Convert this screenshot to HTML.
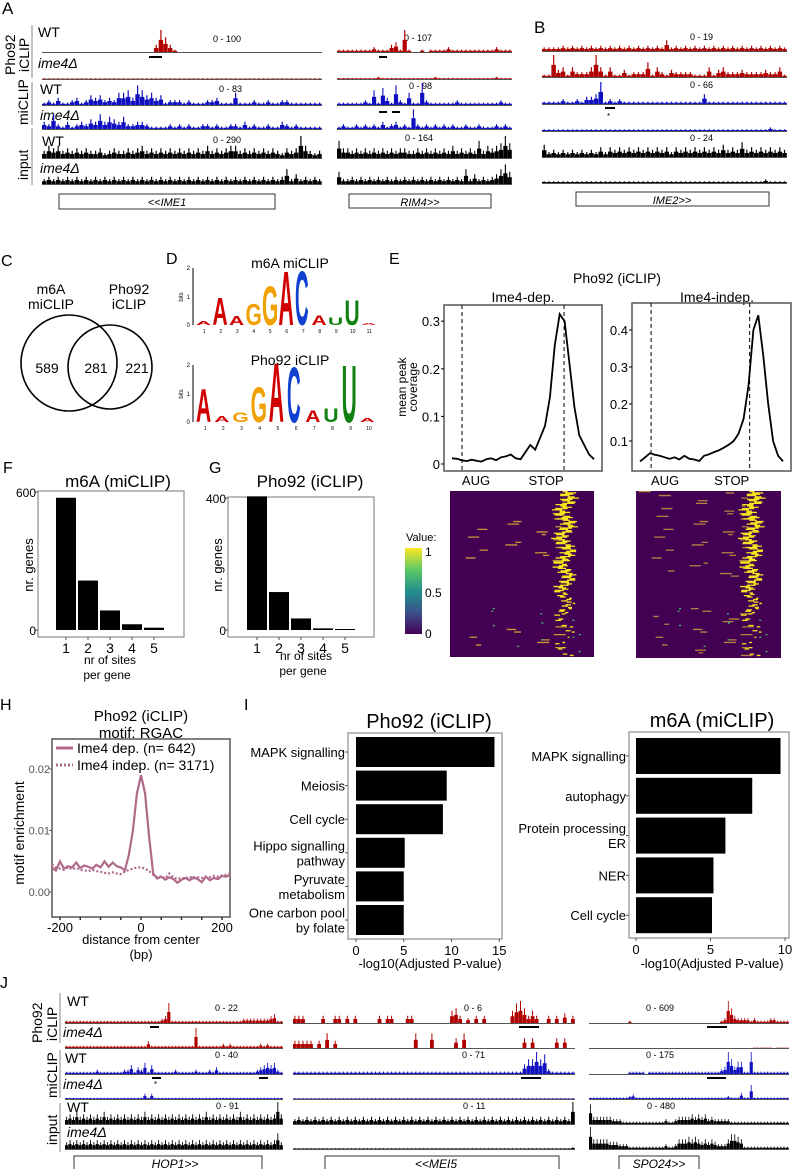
<!DOCTYPE html>
<html><head><meta charset="utf-8">
<style>
html,body{margin:0;padding:0;background:#fff;}
svg{display:block;font-family:"Liberation Sans",Arial,sans-serif;}
</style></head>
<body>
<svg id="fig" width="792" height="1169" viewBox="0 0 792 1169">
<g id="staticg" font-size="12">
<text x="2" y="14" font-size="17">A</text>
<text x="534" y="33" font-size="17">B</text>
<text x="1" y="266" font-size="16">C</text>
<text x="166" y="264" font-size="16">D</text>
<text x="389" y="264" font-size="16">E</text>
<text x="3" y="473" font-size="16">F</text>
<text x="209" y="473" font-size="16">G</text>
<text x="0" y="710" font-size="16">H</text>
<text x="244" y="710" font-size="16">I</text>
<text x="0" y="988" font-size="16">J</text>

<text transform="translate(15,75) rotate(-90)" font-size="14">Pho92</text>
<text transform="translate(29,72) rotate(-90)" font-size="14">iCLIP</text>
<line x1="32" y1="25" x2="32" y2="78" stroke="#888"/>
<text transform="translate(28,125) rotate(-90)" font-size="14">miCLIP</text>
<line x1="32" y1="82" x2="32" y2="125" stroke="#888"/>
<text transform="translate(28,180) rotate(-90)" font-size="14">input</text>
<line x1="32" y1="128" x2="32" y2="185" stroke="#888"/>
<text x="38" y="37" font-size="14">WT</text>
<text x="38" y="68" font-size="14" font-style="italic">ime4Δ</text>
<text x="40" y="94" font-size="14">WT</text>
<text x="40" y="120" font-size="14" font-style="italic">ime4Δ</text>
<text x="42" y="146" font-size="14">WT</text>
<text x="40" y="173" font-size="14" font-style="italic">ime4Δ</text>
<g font-size="9">
<text x="213" y="42">0 - 100</text><text x="219" y="92">0 - 83</text><text x="213" y="143">0 - 290</text>
<text x="404" y="41">0 - 107</text><text x="409" y="89">0 - 98</text><text x="405" y="141">0 - 164</text>
<text x="690" y="40">0 - 19</text><text x="690" y="88">0 - 66</text><text x="690" y="141">0 - 24</text>
</g>
<rect x="149" y="56" width="13" height="2" fill="#000"/>
<rect x="379" y="56" width="8" height="2" fill="#000"/>
<rect x="379" y="111" width="8" height="2" fill="#000"/><rect x="392" y="111" width="8" height="2" fill="#000"/>
<rect x="605" y="107" width="10" height="2" fill="#000"/><text x="607" y="119" font-size="8">*</text>
<rect x="59" y="194" width="216" height="15" fill="none" stroke="#333"/>
<text x="167" y="206" font-size="11" font-style="italic" text-anchor="middle">&lt;&lt;IME1</text>
<rect x="349" y="194" width="142" height="14" fill="none" stroke="#333"/>
<text x="420" y="206" font-size="11" font-style="italic" text-anchor="middle">RIM4&gt;&gt;</text>
<rect x="576" y="192" width="193" height="14" fill="none" stroke="#333"/>
<text x="672" y="204" font-size="11" font-style="italic" text-anchor="middle">IME2&gt;&gt;</text>

<text x="51" y="294" font-size="14" text-anchor="middle">m6A</text>
<text x="51" y="309" font-size="14" text-anchor="middle">miCLIP</text>
<text x="129" y="294" font-size="14" text-anchor="middle">Pho92</text>
<text x="129" y="309" font-size="14" text-anchor="middle">iCLIP</text>
<circle cx="69" cy="363" r="48" fill="none" stroke="#000" stroke-width="1.6"/>
<circle cx="110" cy="367" r="42" fill="none" stroke="#000" stroke-width="1.6"/>
<text x="47" y="373" font-size="14" text-anchor="middle">589</text>
<text x="96" y="373" font-size="14" text-anchor="middle">281</text>
<text x="137" y="373" font-size="14" text-anchor="middle">221</text>

<text x="290" y="268" font-size="14" text-anchor="middle">m6A miCLIP</text>
<text x="290" y="365" font-size="14" text-anchor="middle">Pho92 iCLIP</text>

<text x="617" y="283" font-size="14" text-anchor="middle">Pho92 (iCLIP)</text>
<text x="523" y="302" font-size="14" text-anchor="middle">Ime4-dep.</text>
<text x="717" y="302" font-size="14" text-anchor="middle">Ime4-indep.</text>
<text transform="translate(406,387) rotate(-90)" font-size="12" text-anchor="middle">mean peak</text>
<text transform="translate(417,387) rotate(-90)" font-size="12" text-anchor="middle">coverage</text>
<text x="406" y="541" font-size="11">Value:</text>

<text x="118" y="487" font-size="17" text-anchor="middle">m6A (miCLIP)</text>
<text x="310" y="487" font-size="17" text-anchor="middle">Pho92 (iCLIP)</text>
<text transform="translate(33,565) rotate(-90)" font-size="13" text-anchor="middle">nr. genes</text>
<text transform="translate(222,565) rotate(-90)" font-size="13" text-anchor="middle">nr. genes</text>
<text x="110" y="664" font-size="12" text-anchor="middle">nr of sites</text>
<text x="107" y="679" font-size="12" text-anchor="middle">per gene</text>
<text x="306" y="660" font-size="12" text-anchor="middle">nr of sites</text>
<text x="303" y="675" font-size="12" text-anchor="middle">per gene</text>

<text x="141" y="721" font-size="15" text-anchor="middle">Pho92 (iCLIP)</text>
<text x="141" y="738" font-size="15" text-anchor="middle">motif: RGAC</text>
<text transform="translate(24,833) rotate(-90)" font-size="14" text-anchor="middle">motif enrichment</text>
<text x="141" y="944" font-size="13" text-anchor="middle">distance from center</text>
<text x="141" y="959" font-size="13" text-anchor="middle">(bp)</text>

<text x="429" y="728" font-size="20" text-anchor="middle">Pho92 (iCLIP)</text>
<text x="712" y="727" font-size="20" text-anchor="middle">m6A (miCLIP)</text>
<text x="430" y="968" font-size="13" text-anchor="middle">-log10(Adjusted P-value)</text>
<text x="712" y="968" font-size="13" text-anchor="middle">-log10(Adjusted P-value)</text>

<text transform="translate(42,1043) rotate(-90)" font-size="14">Pho92</text>
<text transform="translate(57,1041) rotate(-90)" font-size="14">iCLIP</text>
<line x1="60" y1="993" x2="60" y2="1043" stroke="#888"/>
<text transform="translate(57,1098) rotate(-90)" font-size="14">miCLIP</text>
<line x1="60" y1="1050" x2="60" y2="1098" stroke="#888"/>
<text transform="translate(57,1145) rotate(-90)" font-size="14">input</text>
<line x1="60" y1="1103" x2="60" y2="1152" stroke="#888"/>
<text x="67" y="1006" font-size="14">WT</text>
<text x="63" y="1037" font-size="14" font-style="italic">ime4Δ</text>
<text x="65" y="1063" font-size="14">WT</text>
<text x="63" y="1089" font-size="14" font-style="italic">ime4Δ</text>
<text x="67" y="1112" font-size="14">WT</text>
<text x="67" y="1137" font-size="14" font-style="italic">ime4Δ</text>
<g font-size="9">
<text x="215" y="1011">0 - 22</text><text x="215" y="1058">0 - 40</text><text x="216" y="1109">0 - 91</text>
<text x="464" y="1011">0 - 6</text><text x="462" y="1058">0 - 71</text><text x="463" y="1109">0 - 11</text>
<text x="646" y="1011">0 - 609</text><text x="646" y="1058">0 - 175</text><text x="647" y="1109">0 - 480</text>
</g>
<rect x="150" y="1026" width="9" height="2"/><rect x="152" y="1077" width="9" height="2"/><text x="154" y="1087" font-size="8">*</text>
<rect x="259" y="1077" width="9" height="2"/>
<rect x="519" y="1026" width="20" height="2"/><rect x="521" y="1077" width="20" height="2"/>
<rect x="707" y="1026" width="20" height="2"/><rect x="707" y="1077" width="19" height="2"/>
<rect x="74" y="1156" width="188" height="15" fill="none" stroke="#333"/>
<text x="175" y="1168" font-size="12" font-style="italic" text-anchor="middle">HOP1&gt;&gt;</text>
<rect x="325" y="1156" width="234" height="15" fill="none" stroke="#333"/>
<text x="436" y="1168" font-size="12" font-style="italic" text-anchor="middle">&lt;&lt;MEI5</text>
<rect x="619" y="1156" width="80" height="15" fill="none" stroke="#333"/>
<text x="659" y="1168" font-size="12" font-style="italic" text-anchor="middle">SPO24&gt;&gt;</text>
</g>
<g id="dyn"></g>
</svg>
<script>
const trackSpecs = [
 [42,322,52,22,'#b00000',"000000000000000000000000396310000000000000000000000000000000"],
 [42,322,79,6,'#b00000',"111111111111111111111111111111111111111111111111111111111111"],
 [42,322,105,22,'#1010c0',"121311231243423255638645341222121112231115111211211221111111"],
 [42,322,129,22,'#1010c0',"326213123243635435223321111212121122121122131211211321211111"],
 [42,322,158,22,'#000',"354534343433423433434534343434343435343455343434343243495323"],
 [42,322,184,22,'#000',"232323232323232323232323232323232323232323232323232362423232"],
 [337,512,52,22,'#b00000',"1111111121113419100101111211111111112111"],
 [337,512,79,10,'#b00000',"1111111112111111111111211111111111112111"],
 [337,512,105,22,'#1010c0',"1111112161731821511921111112111111111211"],
 [337,512,129,22,'#1010c0',"1211212121312312182121212121121121112121"],
 [337,512,158,22,'#000',"7443434343434344334343434353434373545696"],
 [337,512,184,22,'#000',"5223232323232323232323232323262423234685"],
 [542,787,51,16,'#b00000',"2222323232323232323232323262323232323232323232323232"],
 [542,787,77,22,'#b00000',"1193414222494141131222614213222211141342223222232241"],
 [542,787,104,22,'#1010c0',"1111211213349121211111111111111111411111111111111111"],
 [542,787,131,16,'#1010c0',"1111111111111111111111111111111111111111111111112111"],
 [542,787,157,22,'#000',"5232323232324243434343434342434343434353436343434343"],
 [542,787,183,16,'#000',"1111111111111111111111111111111111111111111111121111"],
 [65,283,1023,20,'#b00000',"1111111111111111111111111111239111111111111111111111222222223411"],
 [65,283,1048,20,'#b00000',"1111111111111111111111113111111111111191111111212111111112121111"],
 [65,283,1074,20,'#1010c0',"1111111112111111122413251411111121111121112131111111111123454521"],
 [65,283,1099,12,'#1010c0',"1111111111111111111111141411111111111111111111111111111111111111"],
 [65,283,1124,22,'#000',"3435343434353434343434353434343434343434353434343435343434343494"],
 [65,283,1149,20,'#000',"3434343434343434343434343434343434343434343434343434343434343473"],
 [293,575,1023,22,'#b00000',"3330000300330303000003033000330000000005630203030000005896353003030403"],
 [293,575,1048,22,'#b00000',"3333303060300000000000000000006000600000406000000000000004040000040400"],
 [293,575,1074,22,'#1010c0',"1111111111111111111111111111111111111111111111111111111114669682111111"],
 [293,575,1099,8,'#1010c0',"1111111111111111111111111111111111111111111111111111111111111111111111"],
 [293,575,1124,22,'#000',"2323232323232323232323232323232323232323232323232323232323232323232329"],
 [293,575,1149,8,'#000',"1111111111111111111111111111111111111111111111111111111111111111111112"],
 [589,789,1023,22,'#b00000',"0000000000001000000000000000000000000000129632222121111221111"],
 [589,789,1048,4,'#b00000',"0000000000000000000000000000000000000000000000000011111101111"],
 [589,789,1074,22,'#1010c0',"0000000000001111101111111111111111111111239635511911111111111"],
 [589,789,1099,14,'#1010c0',"1111111111112311111111111111111111111111112111411911111111111"],
 [589,789,1124,22,'#000',"8333333222111111111111121123333434342322222111111111111111111"],
 [589,789,1149,22,'#000',"9444443332221111111111121124445454343432224665411111111111111"]
];
const fCats = [1,2,3,4,5];
const fValues = [575,215,85,25,10];
const fTicks = [0,600];
const gValues = [405,115,35,5,3];
const gTicks = [0,400];
const iLeftTerms = ["MAPK signalling","Meiosis","Cell cycle","Hippo signalling|pathway","Pyruvate|metabolism","One carbon pool|by folate"];
const iLeftValues = [14.5,9.5,9.1,5.1,5.0,5.0];
const iRightTerms = ["MAPK signalling","autophagy","Protein processing|ER","NER","Cell cycle"];
const iRightValues = [9.7,7.8,6.0,5.2,5.1];
const hX = [-220,-210,-200,-190,-180,-170,-160,-150,-140,-130,-120,-110,-100,-90,-80,-70,-60,-50,-40,-30,-20,-10,0,10,20,30,40,50,60,70,80,90,100,110,120,130,140,150,160,170,180,190,200,210,220];
const hDep = [0.0040,0.0035,0.0050,0.0038,0.0042,0.0040,0.0048,0.0039,0.0043,0.0041,0.0038,0.0044,0.0040,0.0050,0.0041,0.0048,0.0042,0.0040,0.0035,0.0060,0.0100,0.0160,0.0190,0.0160,0.0090,0.0030,0.0022,0.0025,0.0020,0.0024,0.0021,0.0015,0.0020,0.0023,0.0019,0.0024,0.0021,0.0016,0.0025,0.0019,0.0023,0.0021,0.0026,0.0025,0.0028];
const hIndep = [0.0045,0.0040,0.0038,0.0036,0.0040,0.0037,0.0039,0.0036,0.0035,0.0034,0.0036,0.0034,0.0033,0.0031,0.0030,0.0032,0.0030,0.0029,0.0033,0.0036,0.0038,0.0040,0.0040,0.0038,0.0034,0.0028,0.0024,0.0025,0.0022,0.0030,0.0024,0.0021,0.0023,0.0022,0.0025,0.0022,0.0024,0.0023,0.0025,0.0024,0.0026,0.0025,0.0027,0.0028,0.0030];
const hTicks = [0,0.01,0.02];
const hXTicks = [-200,0,200];
const hMinorTicks = [-200,-150,-100,-50,0,50,100,150,200];
const eDep = [0.012,0.011,0.008,0.006,0.009,0.007,0.005,0.010,0.012,0.008,0.014,0.016,0.020,0.012,0.010,0.025,0.040,0.030,0.055,0.080,0.140,0.250,0.315,0.300,0.210,0.120,0.060,0.040,0.020,0.010];
const eIndep = [0.045,0.055,0.067,0.063,0.060,0.056,0.052,0.056,0.050,0.060,0.052,0.050,0.046,0.060,0.064,0.070,0.075,0.082,0.090,0.100,0.120,0.160,0.250,0.400,0.440,0.330,0.200,0.100,0.060,0.045];
const eDepTicks = [0,0.1,0.2,0.3];
const eIndepTicks = [0.1,0.2,0.3,0.4];

const NS="http://www.w3.org/2000/svg";
const dyn=document.getElementById('dyn');
function mk(tag,attrs,parent){const e=document.createElementNS(NS,tag);for(const k in attrs)e.setAttribute(k,attrs[k]);(parent||dyn).appendChild(e);return e;}
function txt(x,y,s,size,anchor,parent){const t=mk('text',{x:x,y:y,'font-size':size,'text-anchor':anchor||'start'},parent);t.textContent=s;return t;}

trackSpecs.forEach((t)=>{
  const [x0,x1,base,h,col,data]=t;
  const g=mk('g',{});
  
  
  mk('line',{x1:x0,y1:base+0.5,x2:x1,y2:base+0.5,stroke:'#555','stroke-width':1},g);
  const n=data.length, w=(x1-x0)/n;
  let d='';
  for(let i=0;i<n;i++){
    const v=+data[i]; if(!v) continue;
    const bh=v/9*h;
    const xx=x0+i*w;
    d+=`M${(xx+w*0.35).toFixed(1)},${base}v${(-bh).toFixed(1)}h${(w*0.25).toFixed(1)}v${bh.toFixed(1)}z`;
    d+=`M${xx.toFixed(1)},${base}v${(-bh*0.55).toFixed(1)}h${(w*0.95).toFixed(1)}v${(bh*0.55).toFixed(1)}z`;
  }
  mk('path',{d:d,fill:col},g);
});

const logoCols={A:'#d00000',C:'#1040d0',G:'#f0a000',U:'#108010'};
function logo(x0,yb,step,letters){
  const g=mk('g',{});
  
  
  mk('line',{x1:x0,y1:yb-57,x2:x0,y2:yb,stroke:'#000'},g);
  txt(x0-3,yb-55,'2',6,'end',g);txt(x0-3,yb-26,'1',6,'end',g);txt(x0-3,yb+2,'0',6,'end',g);
  const bt=txt(x0-10,yb-28,'bits',6,'middle',g);bt.setAttribute('transform',`rotate(-90 ${x0-10} ${yb-28})`);
  letters.forEach((L,i)=>{
    const [ch,h]=L;
    const x=x0+3+i*step;
    if(h>0){
      const t=txt(0,0,ch,14,'start',g);
      t.setAttribute('fill',logoCols[ch]);
      t.setAttribute('font-weight','bold');
      t.setAttribute('transform',`translate(${x},${yb}) scale(${ch==='C'?1.35:1.5},${h/10})`);
    }
    txt(x+step/2,yb+8,String(i+1),5,'middle',g);
  });
}
logo(193,325,16.5,[['A',4],['A',28],['A',9],['G',22],['G',40],['A',55],['C',55],['A',10],['U',8],['U',25],['A',2]]);
logo(193,422,18.2,[['A',34],['A',6],['G',10],['G',36],['A',60],['C',56],['A',12],['U',14],['U',58],['A',4]]);

function profile(bx,by,bw,bh,vals,ticks,y0,ypu,aug,stop){
  const g=mk('g',{});
  
  
  mk('rect',{x:bx,y:by,width:bw,height:bh,fill:'none',stroke:'#555','stroke-width':1.5},g);
  const sy=v=>y0-v*ypu;
  ticks.forEach(t=>{ mk('line',{x1:bx-3,y1:sy(t),x2:bx,y2:sy(t),stroke:'#000'},g); txt(bx-4,sy(t)+5,String(t),13,'end',g);});
  const sx=i=>bx+8+i*(bw-16)/(vals.length-1);
  mk('path',{d:vals.map((v,i)=>(i?'L':'M')+sx(i).toFixed(1)+','+Math.min(sy(v),by+bh-2).toFixed(1)).join(''),fill:'none',stroke:'#000','stroke-width':1.8},g);
  [aug,stop].forEach(f=>mk('line',{x1:bx+f*bw,y1:by,x2:bx+f*bw,y2:by+bh,stroke:'#000','stroke-dasharray':'4,3'},g));
  txt(bx+aug*bw+14,by+bh+14,'AUG',13,'middle',g);
  txt(bx+stop*bw-18,by+bh+14,'STOP',13,'middle',g);
}
profile(444,305,158,166,eDep,eDepTicks,464,476,0.114,0.76);
profile(632,303,159,168,eIndep,eIndepTicks,478,370,0.12,0.74);

function heat(bx,by,bw,bh,dens,center,orange){
  const g=mk('g',{});
  
  
  mk('rect',{x:bx,y:by,width:bw,height:bh,fill:'#440154'},g);
  const rows=Math.round(bh/1.3);
  let d='',d2='',d3='';
  for(let r=0;r<rows;r++){
    const y=by+r*1.3;
    const f=r/rows;
    if(f<0.75 || Math.sin(r*7.7)>0.3){
      const c=bx+bw*(center+0.03*Math.sin(r*1.7)+0.03*Math.sin(r*0.31));
      const l=(f<0.6?5:2)+8*Math.abs(Math.sin(r*2.3))*(1-f*0.7);
      d+=`M${(c-l/2).toFixed(1)},${y.toFixed(1)}h${l.toFixed(1)}v1.3h${(-l).toFixed(1)}z`;
    }
    if(Math.sin(r*3.1)>1-dens*(1.2-f)){const x2=bx+bw*(0.02+0.72*Math.abs(Math.sin(r*5.3)));const l=4+8*Math.abs(Math.cos(r));d2+=`M${x2.toFixed(1)},${y.toFixed(1)}h${l.toFixed(1)}v1.3h${(-l).toFixed(1)}z`;}
    if(f>0.7 && Math.sin(r*9.1)>0.6){const x3=bx+bw*(0.1+0.8*Math.abs(Math.sin(r*2.9)));d3+=`M${x3.toFixed(1)},${y.toFixed(1)}h2v1.3h-2z`;}
  }
  mk('path',{d:d2,fill:orange,opacity:0.85},g);
  mk('path',{d:d3,fill:'#3fbc73'},g);
  mk('path',{d:d,fill:'#f1e51d'},g);
}
heat(450,491,144,166,0.25,0.8,'#e0b030');
heat(636,491,145,167,0.9,0.8,'#c89a3a');
const gradDefs=mk('defs',{});
const lg=mk('linearGradient',{id:'vir',x1:0,y1:1,x2:0,y2:0},gradDefs);
[['0','#440154'],['0.25','#3b528b'],['0.5','#21908c'],['0.75','#5dc963'],['1','#fde725']].forEach(s=>mk('stop',{offset:s[0],'stop-color':s[1]},lg));
const cb=mk('rect',{x:405,y:548,width:17,height:86,fill:'url(#vir)'});


txt(425,556,'1',12);txt(425,597,'0.5',12);txt(425,638,'0',12);

function bars(bx,by,bw,bh,x1,yTop,yBot,vals,ticks,name){
  const g=mk('g',{});
  
  
  mk('rect',{x:bx,y:by,width:bw,height:bh,fill:'none',stroke:'#777','stroke-width':1},g);
  const maxT=ticks[ticks.length-1];
  const sy=v=>yBot-v/maxT*(yBot-yTop);
  ticks.forEach(t=>{mk('line',{x1:bx-3,y1:sy(t),x2:bx,y2:sy(t),stroke:'#555'},g);txt(bx-2,sy(t)+5,String(t),12,'end',g);});
  vals.forEach((v,i)=>{
    const cx=x1+i*22;
    const b=mk('rect',{x:cx-10,y:sy(v),width:20,height:Math.max(1,yBot-sy(v)),fill:'#000'},g);
    
    
    mk('line',{x1:cx,y1:by+bh,x2:cx,y2:by+bh+3,stroke:'#555'},g);
    txt(cx,by+bh+16,String(fCats[i]),14,'middle',g);
  });
}
bars(38,491,146,146,66,492,630,fValues,fTicks,'bar-chart-m6a-sites');
bars(228,497,146,140,257,498,630,gValues,gTicks,'bar-chart-pho92-sites');

(function(){
  const g=mk('g',{});
  
  
  const bx=52,by=739,bw=178,bh=178;
  const sx=v=>141+v*0.405, sy=v=>892-v*6150;
  mk('rect',{x:bx,y:by,width:bw,height:bh,fill:'none',stroke:'#555','stroke-width':1.5},g);
  hTicks.forEach(t=>{mk('line',{x1:bx-3,y1:sy(t),x2:bx,y2:sy(t),stroke:'#555'},g);txt(bx-2,sy(t)+4,t.toFixed(2),11,'end',g).setAttribute('fill','#555');});
  hMinorTicks.forEach(t=>mk('line',{x1:sx(t),y1:by+bh,x2:sx(t),y2:by+bh+3,stroke:'#333','stroke-width':1.5},g));
  hXTicks.forEach(t=>{txt(sx(t),by+bh+15,String(t),13,'middle',g);});
  const l1=mk('path',{d:hX.map((x,i)=>(i?'L':'M')+sx(x).toFixed(1)+','+sy(hDep[i]).toFixed(1)).join(''),fill:'none',stroke:'#b06a8a','stroke-width':2.2},g);
  
  
  const l2=mk('path',{d:hX.map((x,i)=>(i?'L':'M')+sx(x).toFixed(1)+','+sy(hIndep[i]).toFixed(1)).join(''),fill:'none',stroke:'#b06a8a','stroke-width':2.2,'stroke-dasharray':'2,2'},g);
  
  
  const lgd=mk('g',{},g);
  
  
  mk('line',{x1:56,y1:748,x2:73,y2:748,stroke:'#b06a8a','stroke-width':3},lgd);
  txt(77,753,'Ime4 dep. (n= 642)',14,'start',lgd);
  mk('line',{x1:56,y1:765,x2:73,y2:765,stroke:'#b06a8a','stroke-width':3,'stroke-dasharray':'2,2'},lgd);
  txt(77,770,'Ime4 indep. (n= 3171)',14,'start',lgd);
})();

function hbars(bx,by,bw,bh,terms,vals,x0,ppu,ticks,firstY,step,barH,name){
  const g=mk('g',{});
  
  
  mk('rect',{x:bx,y:by,width:bw,height:bh,fill:'none',stroke:'#777','stroke-width':1},g);
  terms.forEach((t,i)=>{
    const y=firstY+i*step;
    const b=mk('rect',{x:x0,y:y,width:vals[i]*ppu,height:barH,fill:'#000'},g);
    
    
    const cy=y+barH/2;
    mk('line',{x1:bx-3,y1:cy,x2:bx,y2:cy,stroke:'#555'},g);
    const parts=t.split('|');
    parts.forEach((p,j)=>txt(bx-3,cy+5+(j-(parts.length-1)/2)*15,p,13,'end',g));
  });
  ticks.forEach(t=>{mk('line',{x1:x0+t*ppu,y1:by+bh,x2:x0+t*ppu,y2:by+bh+3,stroke:'#555'},g);txt(x0+t*ppu,by+bh+16,String(t),13,'middle',g);});
}
hbars(348,733,154,206,iLeftTerms,iLeftValues,356,9.55,[0,5,10,15],737,33.6,30,'enrichment-pho92');
hbars(629,732,160,206,iRightTerms,iRightValues,636,14.9,[0,5,10],738,39.8,36,'enrichment-m6a');
</script>
</body></html>
